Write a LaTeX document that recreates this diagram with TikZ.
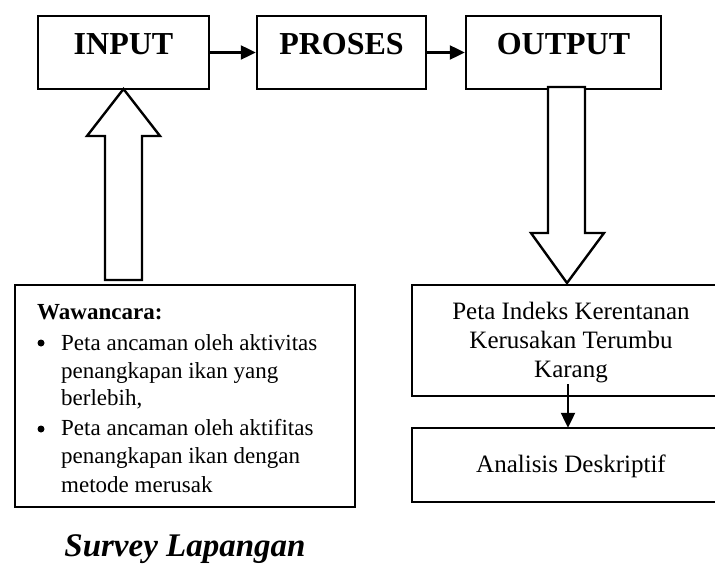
\documentclass[tikz,border=0pt]{standalone}
\usepackage{fontspec}
\setmainfont{Liberation Serif}
\usetikzlibrary{arrows.meta,calc}
\begin{document}
\begin{tikzpicture}[x=1pt,y=-1pt,
  frame/.style={draw, line width=2.4pt},
  titlebox/.style={frame, minimum height=73pt, inner sep=0pt, text height=21pt, text depth=16pt, font=\fontsize{32}{38}\selectfont\bfseries},
  conn/.style={line width=2.2pt, -{Triangle[length=15pt,width=14pt]}},
  blockarrow/.style={draw, line width=2.4pt, fill=white, line join=miter},
  bodyline/.style={anchor=base west, inner sep=0pt, font=\fontsize{23}{28}\selectfont},
  rline/.style={anchor=base, inner sep=0pt, font=\fontsize{25}{29}\selectfont},
  bulletdot/.style={circle, fill, inner sep=0pt, minimum size=7pt},
  openbox/.style={inner sep=0pt, minimum width=318pt}
]
\useasboundingbox (0,0) rectangle (715,564);

% top row
\node[titlebox, minimum width=171pt] (input) at (123.5,52.5) {INPUT};
\node[titlebox, minimum width=169pt] (proses) at (341.5,52.5) {PROSES};
\node[titlebox, minimum width=195pt] (output) at (563.5,52.5) {OUTPUT};
\draw[conn] (input.east) -- (proses.west);
\draw[conn] (proses.east) -- (output.west);

% left box
\node[frame, minimum width=340pt, minimum height=222pt, inner sep=0pt] (wbox) at (185,396) {};
\node[bodyline, font=\fontsize{23}{28}\selectfont\bfseries] (w0) at (37,319) {Wawancara:};
\node[bulletdot] (bu1) at (41,343) {};
\node[bodyline] (l1) at (61,350) {Peta ancaman oleh aktivitas};
\node[bodyline] (l2) at (61,378) {penangkapan ikan yang};
\node[bodyline] (l3) at (61,405) {berlebih,};
\node[bulletdot] (bu2) at (41,429) {};
\node[bodyline] (l4) at (61,435) {Peta ancaman oleh aktifitas};
\node[bodyline] (l5) at (61,463) {penangkapan ikan dengan};
\node[bodyline] (l6) at (61,492) {metode merusak};

\node[anchor=base, inner sep=0pt, font=\fontsize{33}{38}\selectfont\bfseries\itshape] (survey) at (185,556) {Survey Lapangan};

% up block arrow
\draw[blockarrow] (123.5,89) -- ++(36.5,47) -- ++(-18,0) -- ++(0,144) -- ++(-37,0) -- ++(0,-144) -- ++(-18,0) -- cycle;

% right boxes (open to the right edge)
\node[openbox, minimum height=111pt] (pk) at (571,340.5) {};
\draw[frame] ([xshift=303pt]pk.north west) -- (pk.north west) -- (pk.south west) -- ([xshift=303pt]pk.south west);
\node[rline] (pk1) at (571,319) {Peta Indeks Kerentanan};
\node[rline] (pk2) at (571,348) {Kerusakan Terumbu};
\node[rline] (pk3) at (571,377) {Karang};

\node[openbox, minimum height=74pt] (adbox) at (571,465) {};
\draw[frame] ([xshift=303pt]adbox.north west) -- (adbox.north west) -- (adbox.south west) -- ([xshift=303pt]adbox.south west);
\node[rline] (ad) at (571,472) {Analisis Deskriptif};

\coordinate (pkout) at (568,384);
\draw[conn] (pkout) -- (pkout |- adbox.north);

% down block arrow
\draw[blockarrow] (567,283) -- ++(-36,-50) -- ++(17,0) -- ++(0,-146) -- ++(37,0) -- ++(0,146) -- ++(19,0) -- cycle;
\end{tikzpicture}
\end{document}
